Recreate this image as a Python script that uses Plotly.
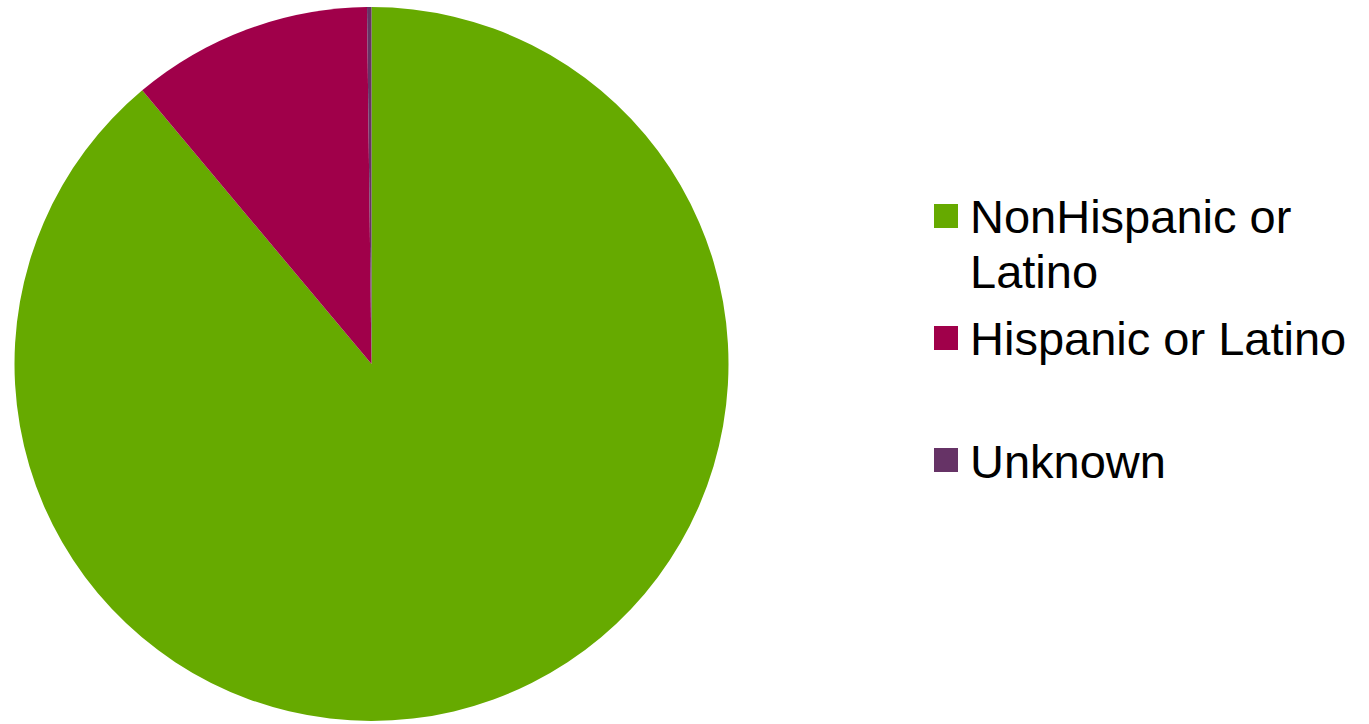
import plotly.graph_objects as go

labels = ["NonHispanic or Latino", "Hispanic or Latino", "Unknown"]
legend_lines = [["NonHispanic or", "Latino"], ["Hispanic or Latino"], ["Unknown"]]
values = [88.9, 10.9, 0.2]
colors = ["#66AA00", "#A0004A", "#663366"]

W, H = 1369, 724
cx, cy, r = 371.5, 364, 357

fig = go.Figure(go.Pie(
    labels=labels, values=values, sort=False, direction="clockwise", rotation=0,
    marker=dict(colors=colors, line=dict(width=0)),
    textinfo="none", hoverinfo="label+percent", showlegend=False,
    domain=dict(x=[(cx - r) / W, (cx + r) / W], y=[(H - cy - r) / H, (H - cy + r) / H]),
))

# legend (square markers + text), positions in pixels from top
sq_top = [204, 326, 448]
line_centers = [[216, 272], [338], [461]]
for i, lines in enumerate(legend_lines):
    fig.add_shape(type="rect", xref="paper", yref="paper",
                  x0=934 / W, x1=958 / W, y0=1 - (sq_top[i] + 24) / H, y1=1 - sq_top[i] / H,
                  fillcolor=colors[i], line=dict(width=0))
    for txt, yc in zip(lines, line_centers[i]):
        fig.add_annotation(xref="paper", yref="paper", x=968 / W, y=1 - yc / H,
                           xanchor="left", yanchor="middle", text=txt, showarrow=False,
                           align="left",
                           font=dict(family="Liberation Sans, Arial", size=47, color="#000000"))

fig.update_layout(width=W, height=H, margin=dict(l=0, r=0, t=0, b=0),
                  paper_bgcolor="white", plot_bgcolor="white")
fig.write_html("out.html", config={"displayModeBar": False},
               post_script="document.body.style.margin='0';")
